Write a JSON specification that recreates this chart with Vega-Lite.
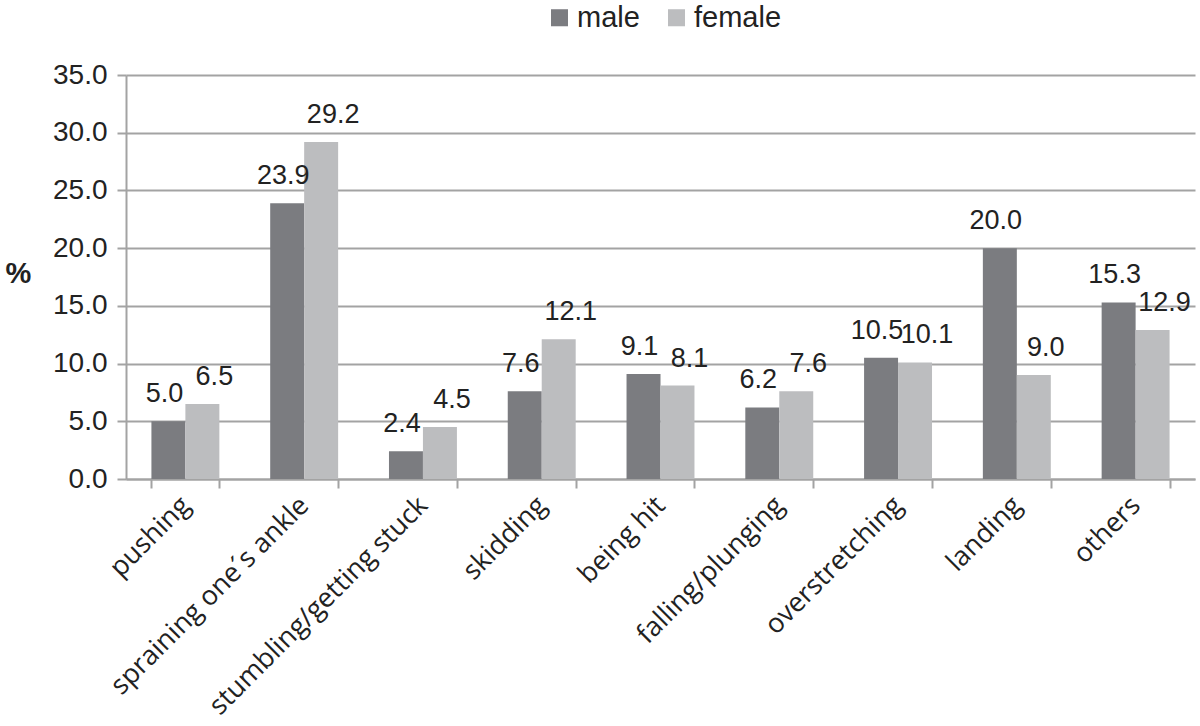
{
  "$schema": "https://vega.github.io/schema/vega-lite/v6.json",
  "width": 1069,
  "height": 404,
  "autosize": {"type": "none"},
  "padding": {"left": 126, "top": 75, "right": 5, "bottom": 247},
  "background": "white",
  "config": {
    "view": {"stroke": null},
    "font": "Liberation Sans"
  },
  "data": {
    "values": [
      {"cause": "pushing", "sex": "male", "pct": 5.0},
      {"cause": "pushing", "sex": "female", "pct": 6.5},
      {"cause": "spraining one´s ankle", "sex": "male", "pct": 23.9},
      {"cause": "spraining one´s ankle", "sex": "female", "pct": 29.2},
      {"cause": "stumbling/getting stuck", "sex": "male", "pct": 2.4},
      {"cause": "stumbling/getting stuck", "sex": "female", "pct": 4.5},
      {"cause": "skidding", "sex": "male", "pct": 7.6},
      {"cause": "skidding", "sex": "female", "pct": 12.1},
      {"cause": "being hit", "sex": "male", "pct": 9.1},
      {"cause": "being hit", "sex": "female", "pct": 8.1},
      {"cause": "falling/plunging", "sex": "male", "pct": 6.2},
      {"cause": "falling/plunging", "sex": "female", "pct": 7.6},
      {"cause": "overstretching", "sex": "male", "pct": 10.5},
      {"cause": "overstretching", "sex": "female", "pct": 10.1},
      {"cause": "landing", "sex": "male", "pct": 20.0},
      {"cause": "landing", "sex": "female", "pct": 9.0},
      {"cause": "others", "sex": "male", "pct": 15.3},
      {"cause": "others", "sex": "female", "pct": 12.9}
    ]
  },
  "encoding": {
    "x": {
      "field": "cause",
      "type": "nominal",
      "sort": null,
      "scale": {"paddingInner": 0.428, "paddingOuter": 0.214},
      "axis": {
        "title": null,
        "labelAngle": -45,
        "labelAlign": "right",
        "labelBaseline": "middle",
        "labelFont": "Open Sans",
        "labelFontSize": 27,
        "labelColor": "#222222",
        "labelPadding": 13,
        "labelLimit": 500,
        "tickBand": "extent",
        "tickSize": 9,
        "tickWidth": 2,
        "tickColor": "#a3a3a3",
        "domainColor": "#a3a3a3",
        "domainWidth": 2,
        "grid": false
      }
    },
    "xOffset": {"field": "sex", "type": "nominal", "sort": ["male", "female"]},
    "y": {
      "field": "pct",
      "type": "quantitative",
      "scale": {"domain": [0, 35], "nice": false},
      "axis": {
        "title": "%",
        "titleAngle": 0,
        "titleFont": "Liberation Sans",
        "titleFontSize": 29,
        "titleFontWeight": "bold",
        "titleColor": "#222222",
        "titleX": -121,
        "titleY": 213,
        "titleAlign": "left",
        "values": [0, 5, 10, 15, 20, 25, 30, 35],
        "format": ".1f",
        "labelFont": "Liberation Sans",
        "labelFontSize": 28,
        "labelColor": "#222222",
        "labelPadding": 10,
        "tickSize": 9,
        "tickWidth": 2,
        "tickColor": "#a3a3a3",
        "domainColor": "#a3a3a3",
        "domainWidth": 2,
        "grid": true,
        "gridColor": "#a3a3a3",
        "gridWidth": 2
      }
    }
  },
  "layer": [
    {
      "mark": {"type": "bar"},
      "encoding": {
        "color": {
          "field": "sex",
          "type": "nominal",
          "scale": {"domain": ["male", "female"], "range": ["#7b7c80", "#bcbdbf"]},
          "legend": {
            "title": null,
            "orient": "none",
            "direction": "horizontal",
            "legendX": 419,
            "legendY": -72,
            "symbolType": "square",
            "symbolSize": 290,
            "symbolStrokeWidth": 0,
            "labelFont": "Liberation Sans",
            "labelFontSize": 29,
            "labelColor": "#222222",
            "labelOffset": 3,
            "columnPadding": 22
          }
        }
      }
    },
    {
      "transform": [{"filter": "datum.sex === 'male'"}],
      "mark": {
        "type": "text",
        "baseline": "alphabetic",
        "dy": -19,
        "dx": -4,
        "font": "Liberation Sans",
        "fontSize": 27,
        "color": "#222222"
      },
      "encoding": {
        "text": {"field": "pct", "type": "quantitative", "format": ".1f"}
      }
    },
    {
      "transform": [{"filter": "datum.sex === 'female'"}],
      "mark": {
        "type": "text",
        "baseline": "alphabetic",
        "dy": -19,
        "dx": 12,
        "font": "Liberation Sans",
        "fontSize": 27,
        "color": "#222222"
      },
      "encoding": {
        "text": {"field": "pct", "type": "quantitative", "format": ".1f"}
      }
    }
  ]
}
